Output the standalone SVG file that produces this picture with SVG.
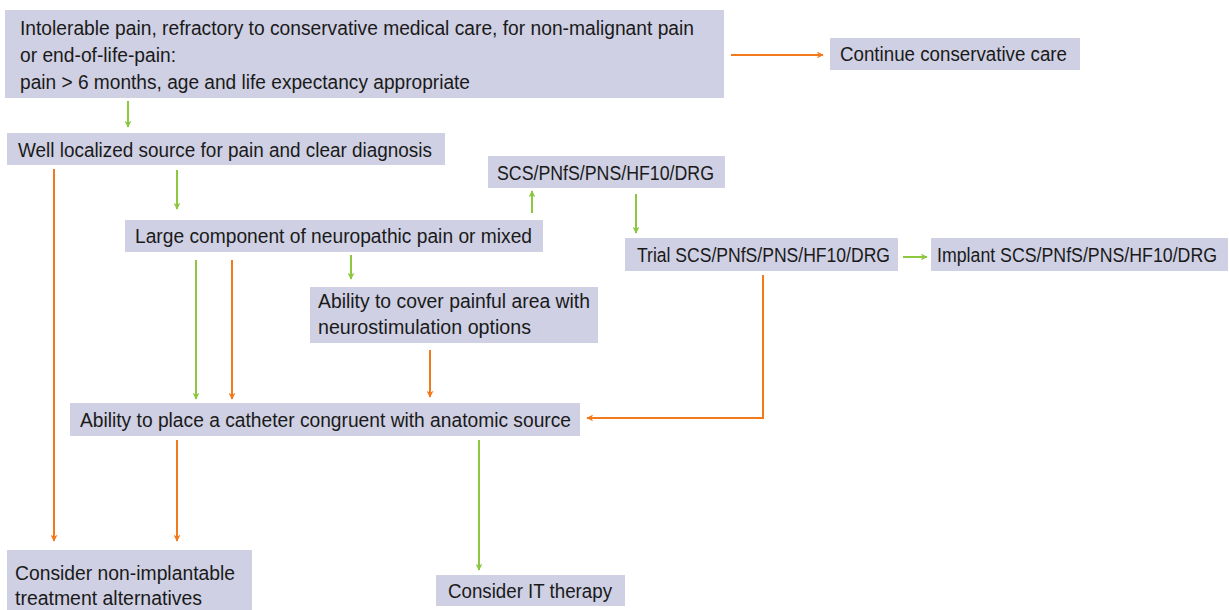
<svg xmlns="http://www.w3.org/2000/svg" width="1229" height="610" viewBox="0 0 1229 610">
<style>
.box{fill:#cfd0e3}
.t{font-family:"Liberation Sans",Arial,sans-serif;font-size:20px;fill:#1a1a1a}
.g{stroke:#8dc63f;stroke-width:2;fill:none}
.o{stroke:#f27a1d;stroke-width:2;fill:none}
</style>
<defs>
<marker id="ag" viewBox="0 0 10 10" refX="9" refY="5" markerWidth="7" markerHeight="7" orient="auto" markerUnits="userSpaceOnUse"><path d="M0,0 L10,5 L0,10 L3,5 z" fill="#8dc63f"/></marker>
<marker id="ao" viewBox="0 0 10 10" refX="9" refY="5" markerWidth="7" markerHeight="7" orient="auto" markerUnits="userSpaceOnUse"><path d="M0,0 L10,5 L0,10 L3,5 z" fill="#f27a1d"/></marker>
</defs>
<rect width="1229" height="610" fill="#fff"/>
<g id="n1"><rect class="box" x="5" y="10" width="719" height="88"/>
<text class="t" x="20" y="35" textLength="674" lengthAdjust="spacingAndGlyphs">Intolerable pain, refractory to conservative medical care, for non-malignant pain</text>
<text class="t" x="20" y="62" textLength="156" lengthAdjust="spacingAndGlyphs">or end-of-life-pain:</text>
<text class="t" x="20" y="89" textLength="450" lengthAdjust="spacingAndGlyphs">pain &gt; 6 months, age and life expectancy appropriate</text></g>
<g id="n2"><rect class="box" x="830" y="38" width="250" height="32"/>
<text class="t" x="840" y="61" textLength="227" lengthAdjust="spacingAndGlyphs">Continue conservative care</text></g>
<g id="n3"><rect class="box" x="7" y="133" width="438" height="32"/>
<text class="t" x="18" y="157" textLength="414" lengthAdjust="spacingAndGlyphs">Well localized source for pain and clear diagnosis</text></g>
<g id="n4"><rect class="box" x="488" y="156" width="237" height="32"/>
<text class="t" x="497" y="180" textLength="217" lengthAdjust="spacingAndGlyphs">SCS/PNfS/PNS/HF10/DRG</text></g>
<g id="n5"><rect class="box" x="125" y="220" width="418" height="32"/>
<text class="t" x="135" y="243" textLength="397" lengthAdjust="spacingAndGlyphs">Large component of neuropathic pain or mixed</text></g>
<g id="n6"><rect class="box" x="625" y="238" width="273" height="33"/>
<text class="t" x="637" y="262" textLength="253" lengthAdjust="spacingAndGlyphs">Trial SCS/PNfS/PNS/HF10/DRG</text></g>
<g id="n7"><rect class="box" x="931" y="238" width="297" height="33"/>
<text class="t" x="937" y="262" textLength="280" lengthAdjust="spacingAndGlyphs">Implant SCS/PNfS/PNS/HF10/DRG</text></g>
<g id="n8"><rect class="box" x="310" y="287" width="288" height="56"/>
<text class="t" x="318" y="308" textLength="272" lengthAdjust="spacingAndGlyphs">Ability to cover painful area with</text>
<text class="t" x="318" y="334" textLength="213" lengthAdjust="spacingAndGlyphs">neurostimulation options</text></g>
<g id="n9"><rect class="box" x="70" y="403" width="510" height="33"/>
<text class="t" x="80" y="427" textLength="491" lengthAdjust="spacingAndGlyphs">Ability to place a catheter congruent with anatomic source</text></g>
<g id="n10"><rect class="box" x="7" y="550" width="245" height="60"/>
<text class="t" x="15" y="580" textLength="220" lengthAdjust="spacingAndGlyphs">Consider non-implantable</text>
<text class="t" x="15" y="605" textLength="187" lengthAdjust="spacingAndGlyphs">treatment alternatives</text></g>
<g id="n11"><rect class="box" x="436" y="575" width="189" height="31"/>
<text class="t" x="448" y="598" textLength="164" lengthAdjust="spacingAndGlyphs">Consider IT therapy</text></g>
<g id="connectors">
<path class="o" d="M731,55 H823" marker-end="url(#ao)"/>
<path class="g" d="M128,101 V127" marker-end="url(#ag)"/>
<path class="o" d="M54,169 V541" marker-end="url(#ao)"/>
<path class="g" d="M177,170 V209" marker-end="url(#ag)"/>
<path class="g" d="M532,213 V191" marker-end="url(#ag)"/>
<path class="g" d="M636,194 V233" marker-end="url(#ag)"/>
<path class="g" d="M903,257 H927" marker-end="url(#ag)"/>
<path class="g" d="M351,255 V279" marker-end="url(#ag)"/>
<path class="g" d="M196,260 V399" marker-end="url(#ag)"/>
<path class="o" d="M232,260 V399" marker-end="url(#ao)"/>
<path class="o" d="M430,350 V397" marker-end="url(#ao)"/>
<path class="o" d="M763,275 V418 H587" marker-end="url(#ao)"/>
<path class="o" d="M177,440 V541" marker-end="url(#ao)"/>
<path class="g" d="M479,440 V570" marker-end="url(#ag)"/>
</g>
</svg>
